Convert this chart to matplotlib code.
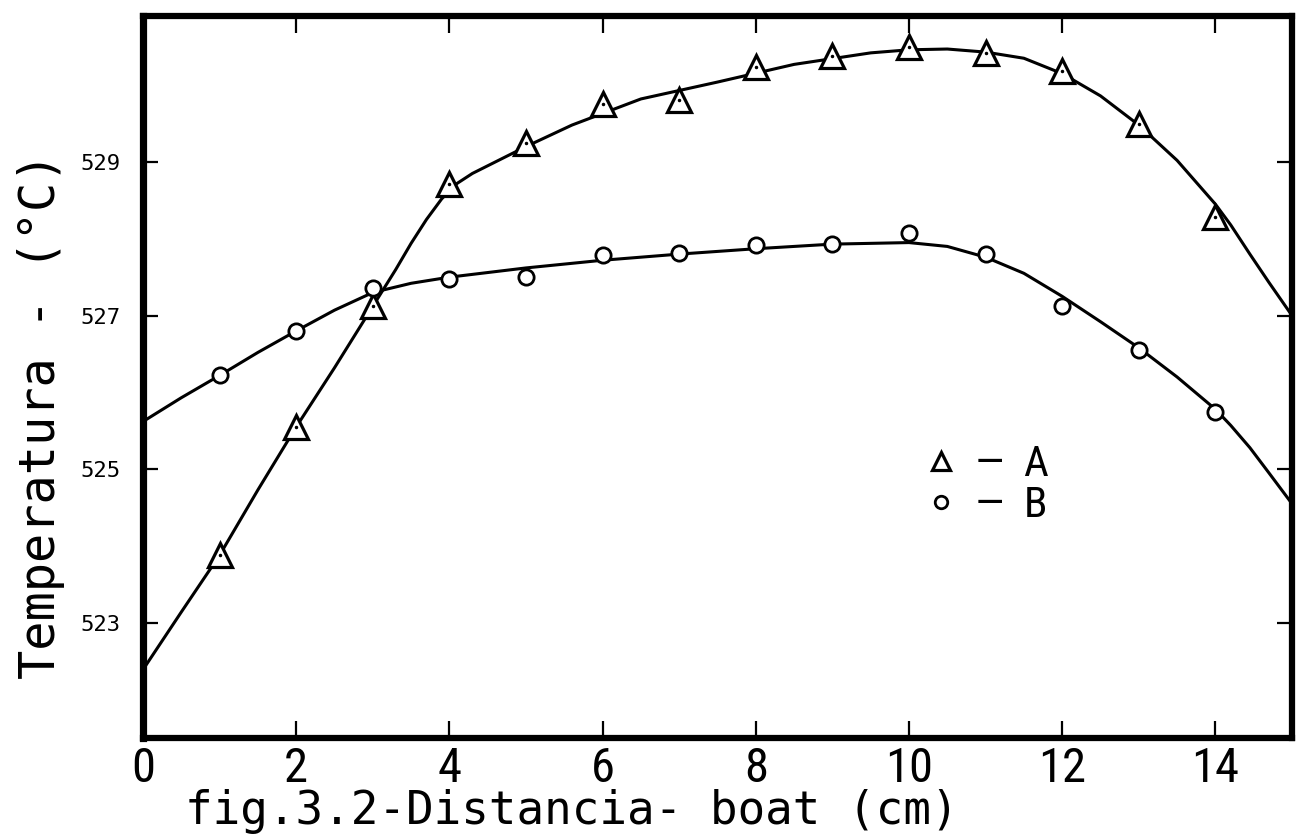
import numpy as np
import matplotlib.pyplot as plt
from matplotlib.lines import Line2D

# measured points (distance in cm, temperature in C)
dist = [1, 2, 3, 4, 5, 6, 7, 8, 9, 10, 11, 12, 13, 14]
temp_A = [523.88, 525.55, 527.12, 528.71, 529.25, 529.76, 529.81, 530.23,
          530.38, 530.50, 530.42, 530.18, 529.50, 528.28]
temp_B = [526.22, 526.80, 527.36, 527.48, 527.50, 527.79, 527.81, 527.92,
          527.93, 528.07, 527.80, 527.13, 526.55, 525.74]

# hand drawn fitted curves
curve_A_x = [0, 0.5, 1, 1.5, 2, 2.5, 3, 3.3, 3.5, 3.7, 3.9, 4.1, 4.3, 4.6, 5,
             5.6, 6.5, 7.5, 8.5, 9.5, 10, 10.5, 11, 11.5, 12, 12.5, 13, 13.5,
             14, 14.2, 14.45, 14.7, 15]
curve_A_y = [522.39, 523.14, 523.88, 524.73, 525.55, 526.32, 527.12, 527.6,
             527.94, 528.25, 528.52, 528.72, 528.85, 529.0, 529.2, 529.48,
             529.82, 530.04, 530.27, 530.42, 530.46, 530.47, 530.43, 530.35,
             530.15, 529.86, 529.48, 529.02, 528.45, 528.18, 527.8, 527.43,
             527.0]
curve_B_x = [0, 0.5, 1, 1.5, 2, 2.5, 3, 3.5, 4, 5, 6, 7, 8, 9, 10, 10.5,
             11, 11.5, 12, 12.5, 13, 13.5, 14, 14.2, 14.45, 14.7, 15]
curve_B_y = [525.62, 525.93, 526.22, 526.52, 526.8, 527.07, 527.3, 527.42,
             527.5, 527.62, 527.72, 527.8, 527.87, 527.93, 527.95, 527.9,
             527.76, 527.55, 527.25, 526.92, 526.58, 526.2, 525.78, 525.57,
             525.28, 524.95, 524.55]

xticks = [0, 2, 4, 6, 8, 10, 12, 14]
yticks = [523, 525, 527, 529]

narrow = ['Roboto Condensed', 'Liberation Sans Narrow', 'DejaVu Sans']
mono = ['DejaVu Sans Mono']

fig = plt.figure(figsize=(12.97, 8.35), dpi=100)
ax = fig.add_axes([143 / 1297, 97 / 835, 1149 / 1297, 722 / 835])

ax.plot(curve_A_x, curve_A_y, color='black', lw=2.2, solid_capstyle='round')
ax.plot(curve_B_x, curve_B_y, color='black', lw=2.2, solid_capstyle='round')

ax.plot(dist, temp_A, ls='none', marker='^', ms=17, mfc='white', mec='black',
        mew=2.3, zorder=3)
ax.plot(dist, temp_A, ls='none', marker='.', ms=3, color='black', zorder=4)
ax.plot(dist, temp_B, ls='none', marker='o', ms=11, mfc='white', mec='black',
        mew=2.0, zorder=3)

ax.set_xlim(0, 15)
ax.set_ylim(521.5, 530.9)

for s in ax.spines.values():
    s.set_linewidth(4.5)
ax.spines['left'].set_linewidth(5.2)

ax.set_xticks(xticks)
ax.set_yticks(yticks)
ax.tick_params(axis='both', which='major', direction='in', width=1.6,
               top=True, right=True)
ax.tick_params(axis='x', length=12, pad=6)
ax.tick_params(axis='y', length=11, pad=16)
for lab in ax.get_xticklabels():
    lab.set_family(narrow)
    lab.set_fontsize(35)
for lab in ax.get_yticklabels():
    lab.set_family(mono)
    lab.set_fontsize(16)

ax.set_xlabel('fig.3.2-Distancia- boat (cm)', family=mono, fontsize=33)
ax.xaxis.set_label_coords(0.373, -0.07)
ax.set_ylabel('Temperatura - (°C)', family=mono, fontsize=35)
ax.yaxis.set_label_coords(-0.068, 0.447)

handles = [
    Line2D([], [], ls='none', marker='^', ms=13, mfc='white', mec='black', mew=2.3),
    Line2D([], [], ls='none', marker='o', ms=9, mfc='white', mec='black', mew=2.0),
]
ax.legend(handles, ['—  A', '—  B'], loc='center left',
          bbox_to_anchor=(0.642, 0.35), frameon=False,
          prop={'family': narrow, 'size': 31}, handlelength=1.0,
          handletextpad=0.3, labelspacing=0.0)

fig.savefig('out.png', dpi=100)
